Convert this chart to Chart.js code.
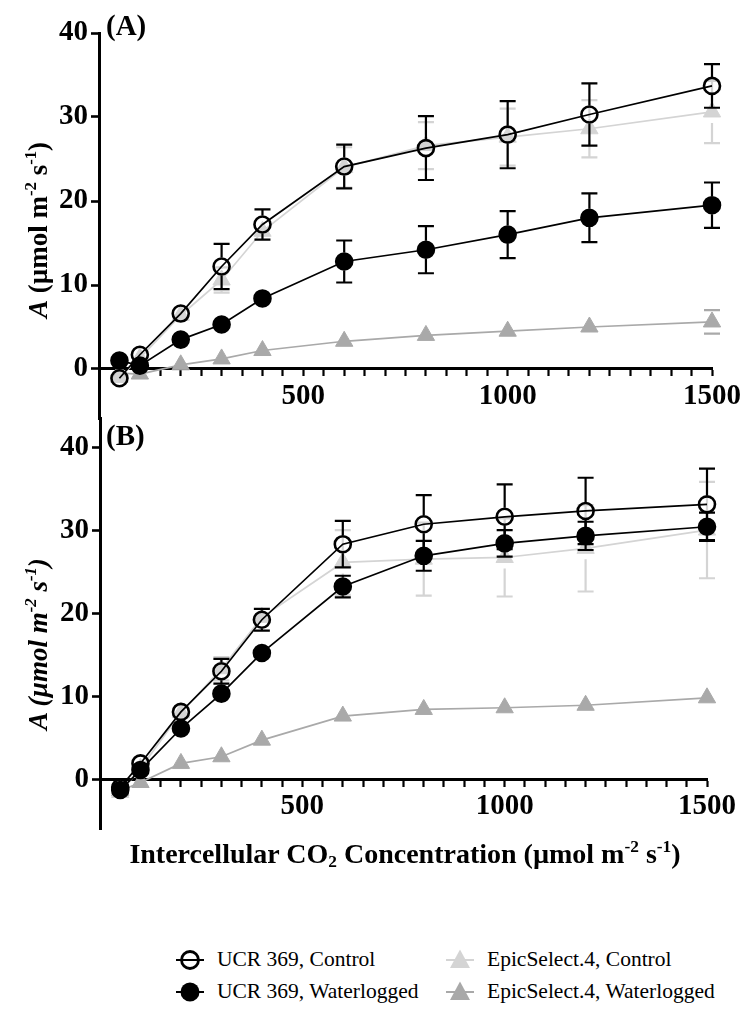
<!DOCTYPE html>
<html>
<head>
<meta charset="utf-8">
<script src="https://cdn.jsdelivr.net/npm/chart.js@4.4.0/dist/chart.umd.min.js"></script>
<style>
  html, body { margin: 0; padding: 0; background: #fff; }
  #page { position: relative; width: 745px; height: 1019px; overflow: hidden; font-family: "Liberation Serif", "Times New Roman", serif; color: #000; }
  #page canvas { position: absolute; left: 0; }
  .panel { position: absolute; font-size: 29px; font-weight: bold; line-height: 1; transform: translateY(-50%); }
  .ytitle { position: absolute; font-size: 27px; font-weight: bold; line-height: 1; white-space: nowrap; transform: translate(-50%, -50%) rotate(-90deg); }
  .xtitle { position: absolute; font-size: 28px; font-weight: bold; line-height: 1; white-space: nowrap; transform: translate(-50%, -50%); }
  sup { font-size: 0.62em; position: relative; top: -0.1em; vertical-align: top; line-height: 1; }
  sub { font-size: 0.62em; position: relative; top: 0.15em; vertical-align: bottom; line-height: 1; }
  .leg { position: absolute; font-family: "Liberation Serif", "Times New Roman", serif; font-size: 21.5px; line-height: 1; white-space: nowrap; display: flex; align-items: center; transform: translateY(-50%); }
  .leg svg { margin-right: 13px; }
</style>
</head>
<body>
<div id="page">
  <canvas id="chartA" width="745" height="445" style="top:0px"></canvas>
  <canvas id="chartB" width="745" height="460" style="top:390px"></canvas>

  <div class="panel" style="left:106px; top:25px">(A)</div>
  <div class="panel" style="left:106px; top:435px">(B)</div>

  <div class="ytitle" style="left:38px; top:230px"><i>A</i> (µmol m<sup>-2</sup> s<sup>-1</sup>)</div>
  <div class="ytitle" style="left:38px; top:644px"><i>A (µmol m<sup>-2</sup> s<sup>-1</sup>)</i></div>

  <div class="xtitle" style="left:405px; top:854px">Intercellular CO<sub>2</sub> Concentration (µmol m<sup>-2</sup> s<sup>-1</sup>)</div>

  <div id="legend"></div>
</div>

<script>
// CO2 levels (x) shared by all series
const co2 = [50, 100, 200, 300, 400, 600, 800, 1000, 1200, 1500];

// panel A
const aUcrControl = [-1.1, 1.7, 6.6, 12.2, 17.2, 24.1, 26.3, 27.9, 30.3, 33.7];
const aUcrControlErr = [0.3, 0.4, 0.6, 2.7, 1.8, 2.6, 3.8, 4.0, 3.7, 2.6];
const aUcrWater = [1.0, 0.4, 3.5, 5.3, 8.4, 12.8, 14.2, 16.0, 18.0, 19.5];
const aUcrWaterErr = [0.3, 0.3, 0.4, 1.0, 1.0, 2.5, 2.8, 2.8, 2.9, 2.7];
const aEpicControl = [-1.0, 1.3, 6.4, 10.6, 16.4, 24.0, 26.6, 27.6, 28.6, 30.6];
const aEpicControlErr = [0.3, 0.3, 0.5, 1.5, 1.2, 2.4, 2.8, 3.4, 3.4, 3.7];
const aEpicWater = [-0.5, -0.6, 0.5, 1.2, 2.2, 3.3, 4.0, 4.5, 5.0, 5.6];
const aEpicWaterErr = [0.2, 0.2, 0.3, 0.3, 0.4, 1.0, 1.1, 1.3, 1.3, 1.4];

// panel B
const bUcrControl = [-1.0, 1.9, 8.1, 13.0, 19.2, 28.3, 30.7, 31.6, 32.3, 33.1];
const bUcrControlErr = [0.3, 0.4, 0.6, 1.5, 1.3, 2.8, 3.5, 3.9, 4.0, 4.3];
const bUcrWater = [-1.3, 1.1, 6.1, 10.3, 15.2, 23.2, 26.9, 28.4, 29.3, 30.4];
const bUcrWaterErr = [0.3, 0.3, 0.4, 0.4, 0.4, 1.3, 1.8, 1.6, 1.7, 1.7];
const bEpicControl = [-1.6, 1.3, 8.0, 13.3, 19.5, 26.1, 26.5, 26.7, 27.8, 30.0];
const bEpicControlErr = [0.3, 0.3, 0.6, 1.4, 1.2, 3.9, 4.4, 4.7, 5.2, 5.8];
const bEpicWater = [-1.4, -0.4, 1.9, 2.7, 4.7, 7.6, 8.4, 8.6, 8.9, 9.8];
const bEpicWaterErr = [0.2, 0.2, 0.2, 0.3, 0.3, 1.0, 1.0, 0.5, 0.4, 0.4];

const seriesNames = ['UCR 369, Control', 'UCR 369, Waterlogged', 'EpicSelect.4, Control', 'EpicSelect.4, Waterlogged'];
const yTicks = [0, 10, 20, 30, 40];
const xLabelTicks = [500, 1000, 1500];

const BLACK = '#000000';
const LIGHT = '#d4d4d4';
const GREY = '#a9a9a9';
const FONT = '"Liberation Serif", "Times New Roman", serif';

// draw each dataset's error bars right before the dataset itself
const errorBars = {
  id: 'errorBars',
  beforeDatasetDraw(chart, args) {
    const ds = chart.data.datasets[args.index];
    if (!ds.errors) return;
    const ctx = chart.ctx;
    const ys = chart.scales.y;
    const r = ds.pointRadius + 1;
    ctx.save();
    ctx.strokeStyle = ds.borderColor;
    ctx.lineWidth = 2.2;
    args.meta.data.forEach((pt, i) => {
      const v = ds.data[i].y, e = ds.errors[i];
      const top = ys.getPixelForValue(v + e);
      const bot = ys.getPixelForValue(v - e);
      const x = pt.x, cy = pt.y;
      ctx.beginPath();
      if (top < cy - r) {
        ctx.moveTo(x, top); ctx.lineTo(x, cy - r);
        ctx.moveTo(x - 8, top); ctx.lineTo(x + 8, top);
      }
      if (bot > cy + r) {
        ctx.moveTo(x, cy + r); ctx.lineTo(x, bot);
        ctx.moveTo(x - 8, bot); ctx.lineTo(x + 8, bot);
      }
      ctx.stroke();
    });
    ctx.restore();
  }
};

function makeSet(label, vals, errs, color, style, fill, radius) {
  return {
    label: label,
    data: co2.map((x, i) => ({ x: x, y: vals[i] })),
    errors: errs,
    borderColor: color,
    backgroundColor: fill,
    borderWidth: 1.7,
    pointStyle: style,
    pointRadius: radius,
    pointBorderWidth: style === 'circle' ? 2.6 : 1,
    pointBorderColor: color,
    pointBackgroundColor: fill,
    tension: 0,
    clip: false
  };
}

// padTop / padBottom are kept above half a tick-label height so Chart.js does not resize the area
function makePanel(id, sets, yMin, yMax, left, right, padTop, padBottom) {
  return new Chart(document.getElementById(id), {
    type: 'line',
    data: { datasets: sets },
    options: {
      responsive: false,
      animation: false,
      devicePixelRatio: 1,
      layout: { padding: { left: 0, right: 745 - right, top: padTop, bottom: padBottom } },
      plugins: { legend: { display: false }, tooltip: { enabled: false } },
      scales: {
        x: {
          type: 'linear',
          position: { y: 0 },
          min: 0, max: 1500,
          afterBuildTicks: s => { s.ticks = []; for (let v = 0; v <= 1500; v += 50) s.ticks.push({ value: v }); },
          grid: { drawOnChartArea: false, drawTicks: true, tickLength: 6, tickWidth: 2.2, tickColor: BLACK },
          border: { display: true, color: BLACK, width: 3 },
          ticks: {
            autoSkip: false, maxRotation: 0, padding: 4, color: BLACK,
            font: { family: FONT, size: 29, weight: 'bold' },
            callback: v => xLabelTicks.includes(v) ? String(v) : ''
          }
        },
        y: {
          type: 'linear',
          position: 'left',
          min: yMin, max: yMax,
          afterBuildTicks: s => { s.ticks = yTicks.map(v => ({ value: v })); },
          afterFit: s => { s.width = left; },
          grid: { drawOnChartArea: false, drawTicks: true, tickLength: 8, tickWidth: 2.6, tickColor: BLACK },
          border: { display: true, color: BLACK, width: 3 },
          ticks: { padding: 3, color: BLACK, font: { family: FONT, size: 29, weight: 'bold' } }
        }
      }
    },
    plugins: [errorBars]
  });
}

// A: area 33..419.4 in a 445 tall canvas at top 0
makePanel('chartA', [
  makeSet(seriesNames[0], aUcrControl, aUcrControlErr, BLACK, 'circle', 'rgba(0,0,0,0)', 8),
  makeSet(seriesNames[1], aUcrWater, aUcrWaterErr, BLACK, 'circle', BLACK, 8),
  makeSet(seriesNames[2], aEpicControl, aEpicControlErr, LIGHT, 'triangle', LIGHT, 10),
  makeSet(seriesNames[3], aEpicWater, aEpicWaterErr, GREY, 'triangle', GREY, 10)
], -6, 40, 99, 713, 33, 25.6);

// B: area 418.8..829 in a 460 tall canvas at top 390
makePanel('chartB', [
  makeSet(seriesNames[0], bUcrControl, bUcrControlErr, BLACK, 'circle', 'rgba(0,0,0,0)', 8),
  makeSet(seriesNames[1], bUcrWater, bUcrWaterErr, BLACK, 'circle', BLACK, 8),
  makeSet(seriesNames[2], bEpicControl, bEpicControlErr, LIGHT, 'triangle', LIGHT, 10),
  makeSet(seriesNames[3], bEpicWater, bEpicWaterErr, GREY, 'triangle', GREY, 10)
], -6, 43.4, 100, 707, 28.8, 21);

// legend, two columns
const legendPos = [[176, 960], [176, 992], [446, 960], [446, 992]];
const legendMarks = [
  '<line x1="0" y1="12" x2="28" y2="12" stroke="#000" stroke-width="2"/><circle cx="14" cy="12" r="8.5" fill="none" stroke="#000" stroke-width="2.8"/>',
  '<line x1="0" y1="12" x2="28" y2="12" stroke="#000" stroke-width="2"/><circle cx="14" cy="12" r="9.5" fill="#000"/>',
  '<line x1="0" y1="12" x2="28" y2="12" stroke="' + LIGHT + '" stroke-width="2"/><polygon points="14,1.5 24,20 4,20" fill="' + LIGHT + '"/>',
  '<line x1="0" y1="12" x2="28" y2="12" stroke="' + GREY + '" stroke-width="2"/><polygon points="14,1.5 24,20 4,20" fill="' + GREY + '"/>'
];
const legend = document.getElementById('legend');
seriesNames.forEach((name, i) => {
  const d = document.createElement('div');
  d.className = 'leg';
  d.style.left = legendPos[i][0] + 'px';
  d.style.top = legendPos[i][1] + 'px';
  d.innerHTML = '<svg width="28" height="24">' + legendMarks[i] + '</svg>' + name;
  legend.appendChild(d);
});
</script>
</body>
</html>
